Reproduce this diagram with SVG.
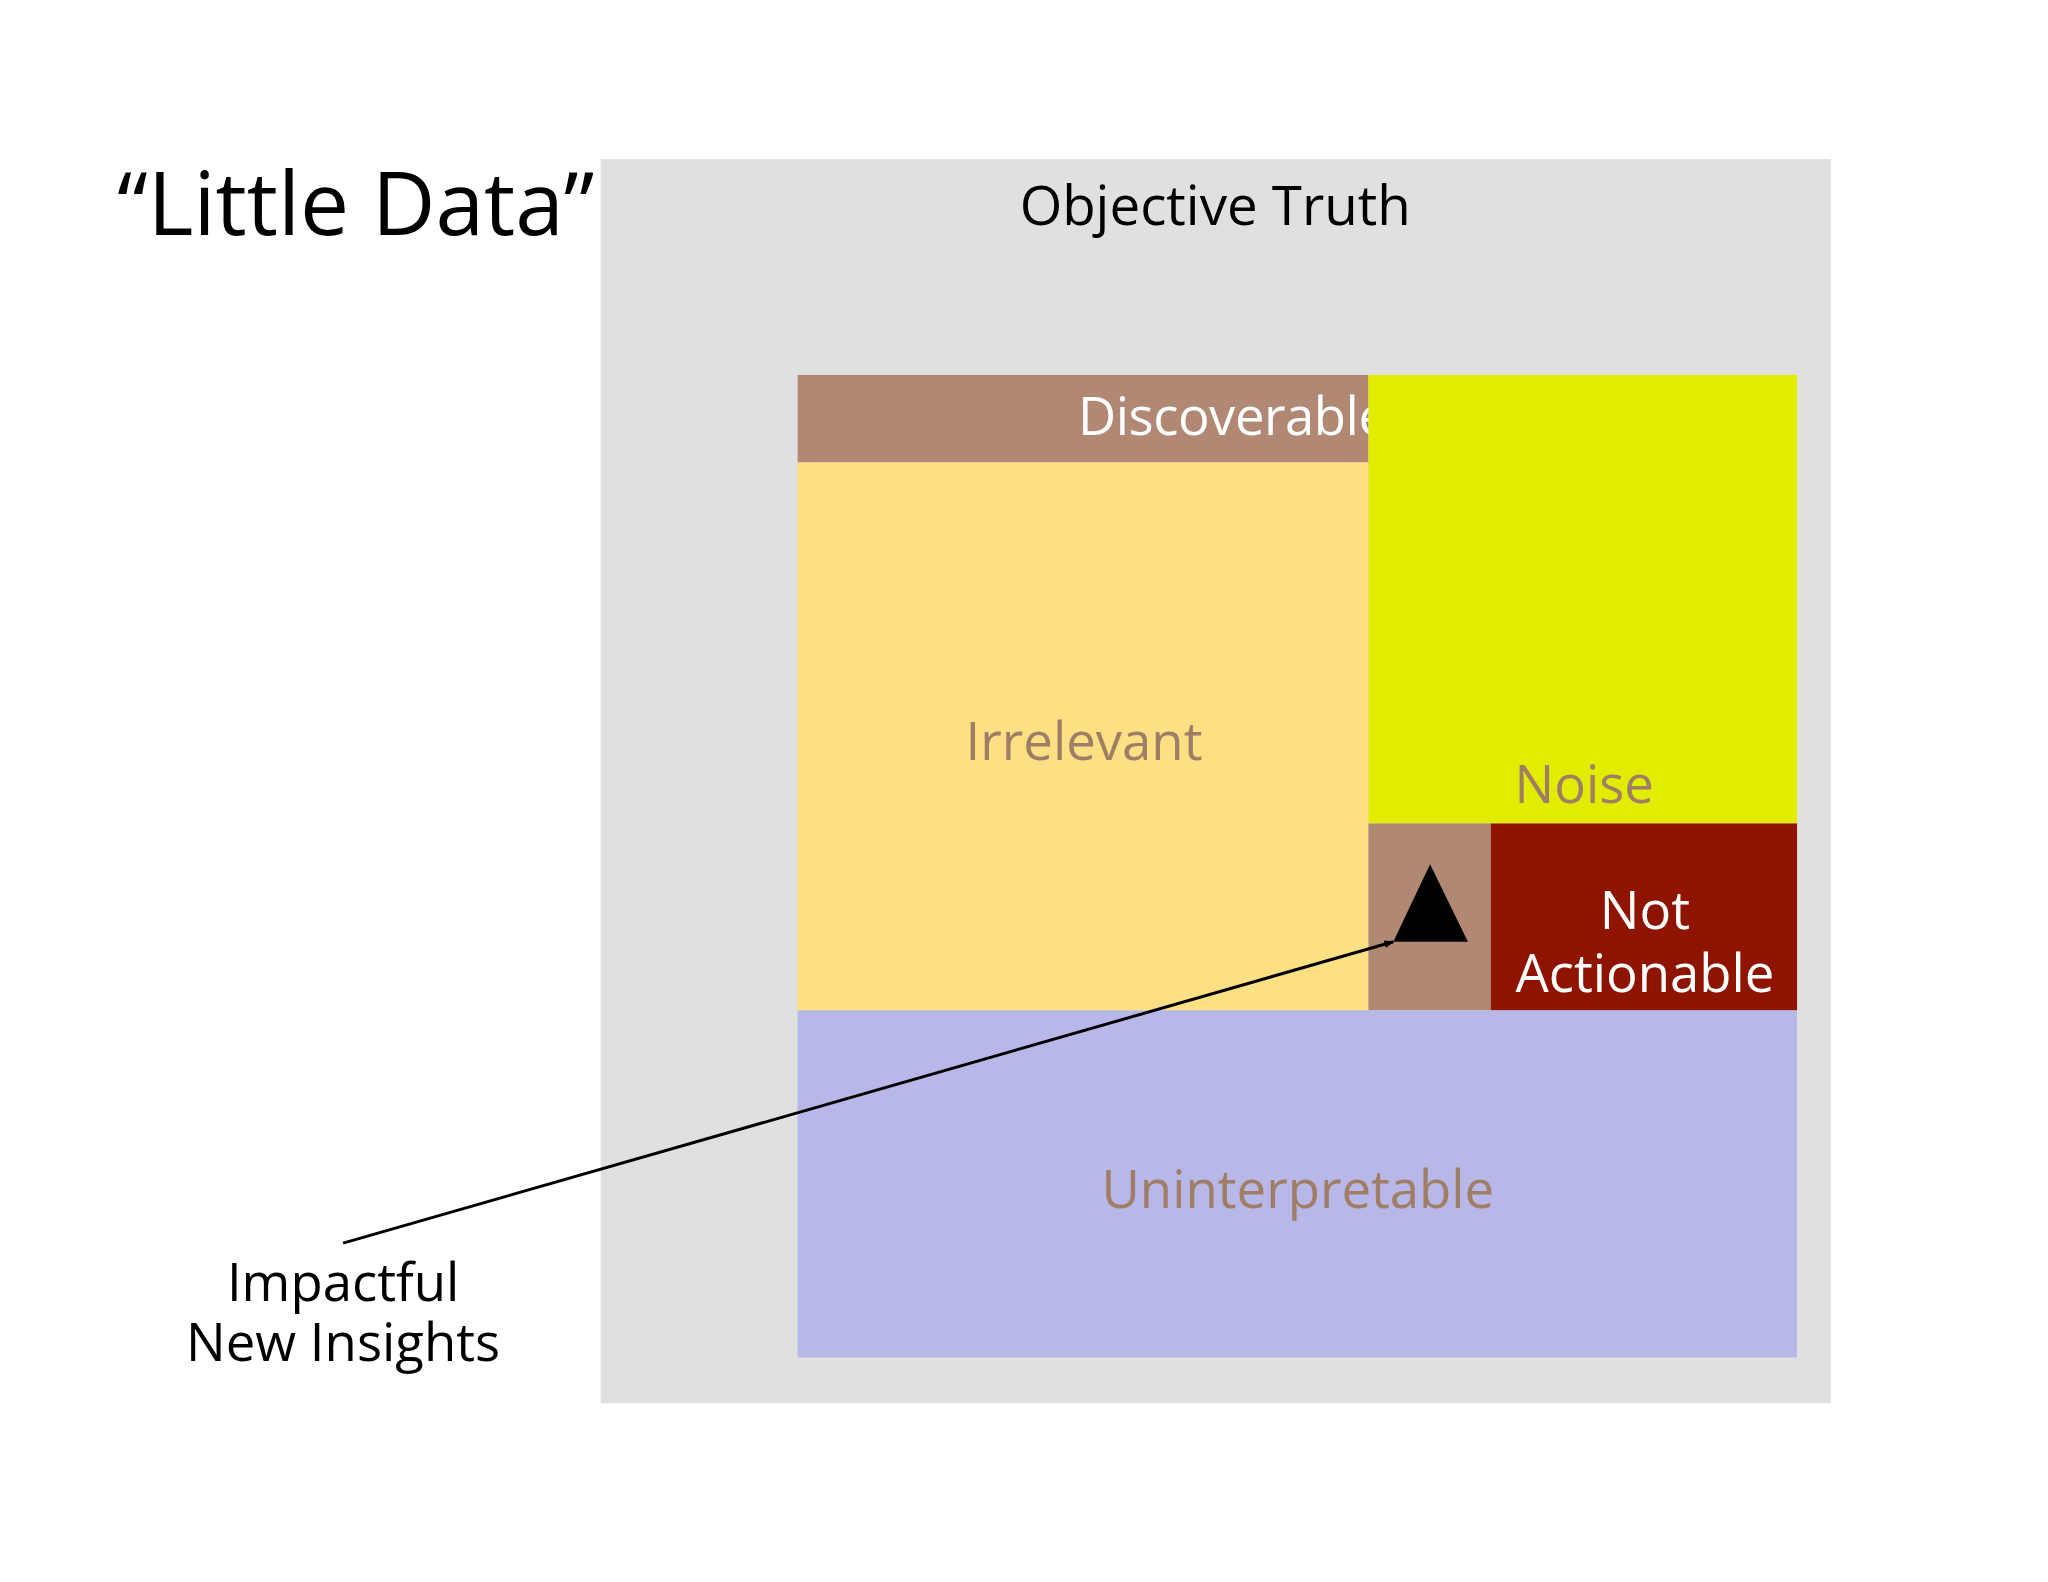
<svg xmlns="http://www.w3.org/2000/svg" width="2048" height="1582" viewBox="0 0 2048 1582">
<style>
text{font-family:"Open Sans","Noto Sans",sans-serif}
.l{font-size:53px;fill:#A07E66;text-anchor:middle}
.w{font-size:53px;fill:#fff}
.k{font-size:53px;fill:#000;text-anchor:middle}
</style>
<defs><marker id="ah" markerWidth="10" markerHeight="8" refX="9" refY="4" orient="auto" markerUnits="userSpaceOnUse"><path d="M0,0L10,4L0,8z" fill="#000"/></marker></defs>
<rect width="2048" height="1582" fill="#fff"/>
<g transform="scale(0.9945)">
<g id="truth"><rect x="604" y="160" width="1237" height="1251" fill="#E0E0E0"/><text x="1222" y="226" font-size="55" text-anchor="middle" fill="#000">Objective Truth</text></g>
<g id="title"><text x="118" y="236" font-size="88" fill="#000">“Little Data”</text></g>
<g id="discoverable"><rect x="802" y="377" width="574" height="88" fill="#B08873"/><text class="w" x="1084" y="437" letter-spacing="-0.5">Discoverable</text></g>
<g id="irrelevant"><rect x="802" y="465" width="574" height="551" fill="#FDE084"/><text class="l" x="1090" y="764">Irrelevant</text></g>
<g id="noise"><rect x="1376" y="377" width="431" height="451" fill="#E2EC00"/><text class="l" x="1593" y="807">Noise</text></g>
<g id="insight"><rect x="1376" y="828" width="123" height="188" fill="#B08873"/><polygon points="1438,869 1401,947 1476,947" fill="#000"/></g>
<g id="notactionable"><rect x="1499" y="828" width="308" height="188" fill="#8F1400"/><text class="w" x="1654" y="934" text-anchor="middle">Not</text><text class="w" x="1654" y="997" text-anchor="middle">Actionable</text></g>
<g id="uninterpretable"><rect x="802" y="1016" width="1005" height="349" fill="#B7B7E8"/><text class="l" x="1305" y="1215">Uninterpretable</text></g>
<g id="impactful"><text class="k" x="345" y="1308">Impactful</text><text class="k" x="345" y="1369">New Insights</text></g>
<g id="connectors"><line x1="345" y1="1250" x2="1401" y2="947" stroke="#000" stroke-width="3" marker-end="url(#ah)"/></g>
</g>
</svg>
